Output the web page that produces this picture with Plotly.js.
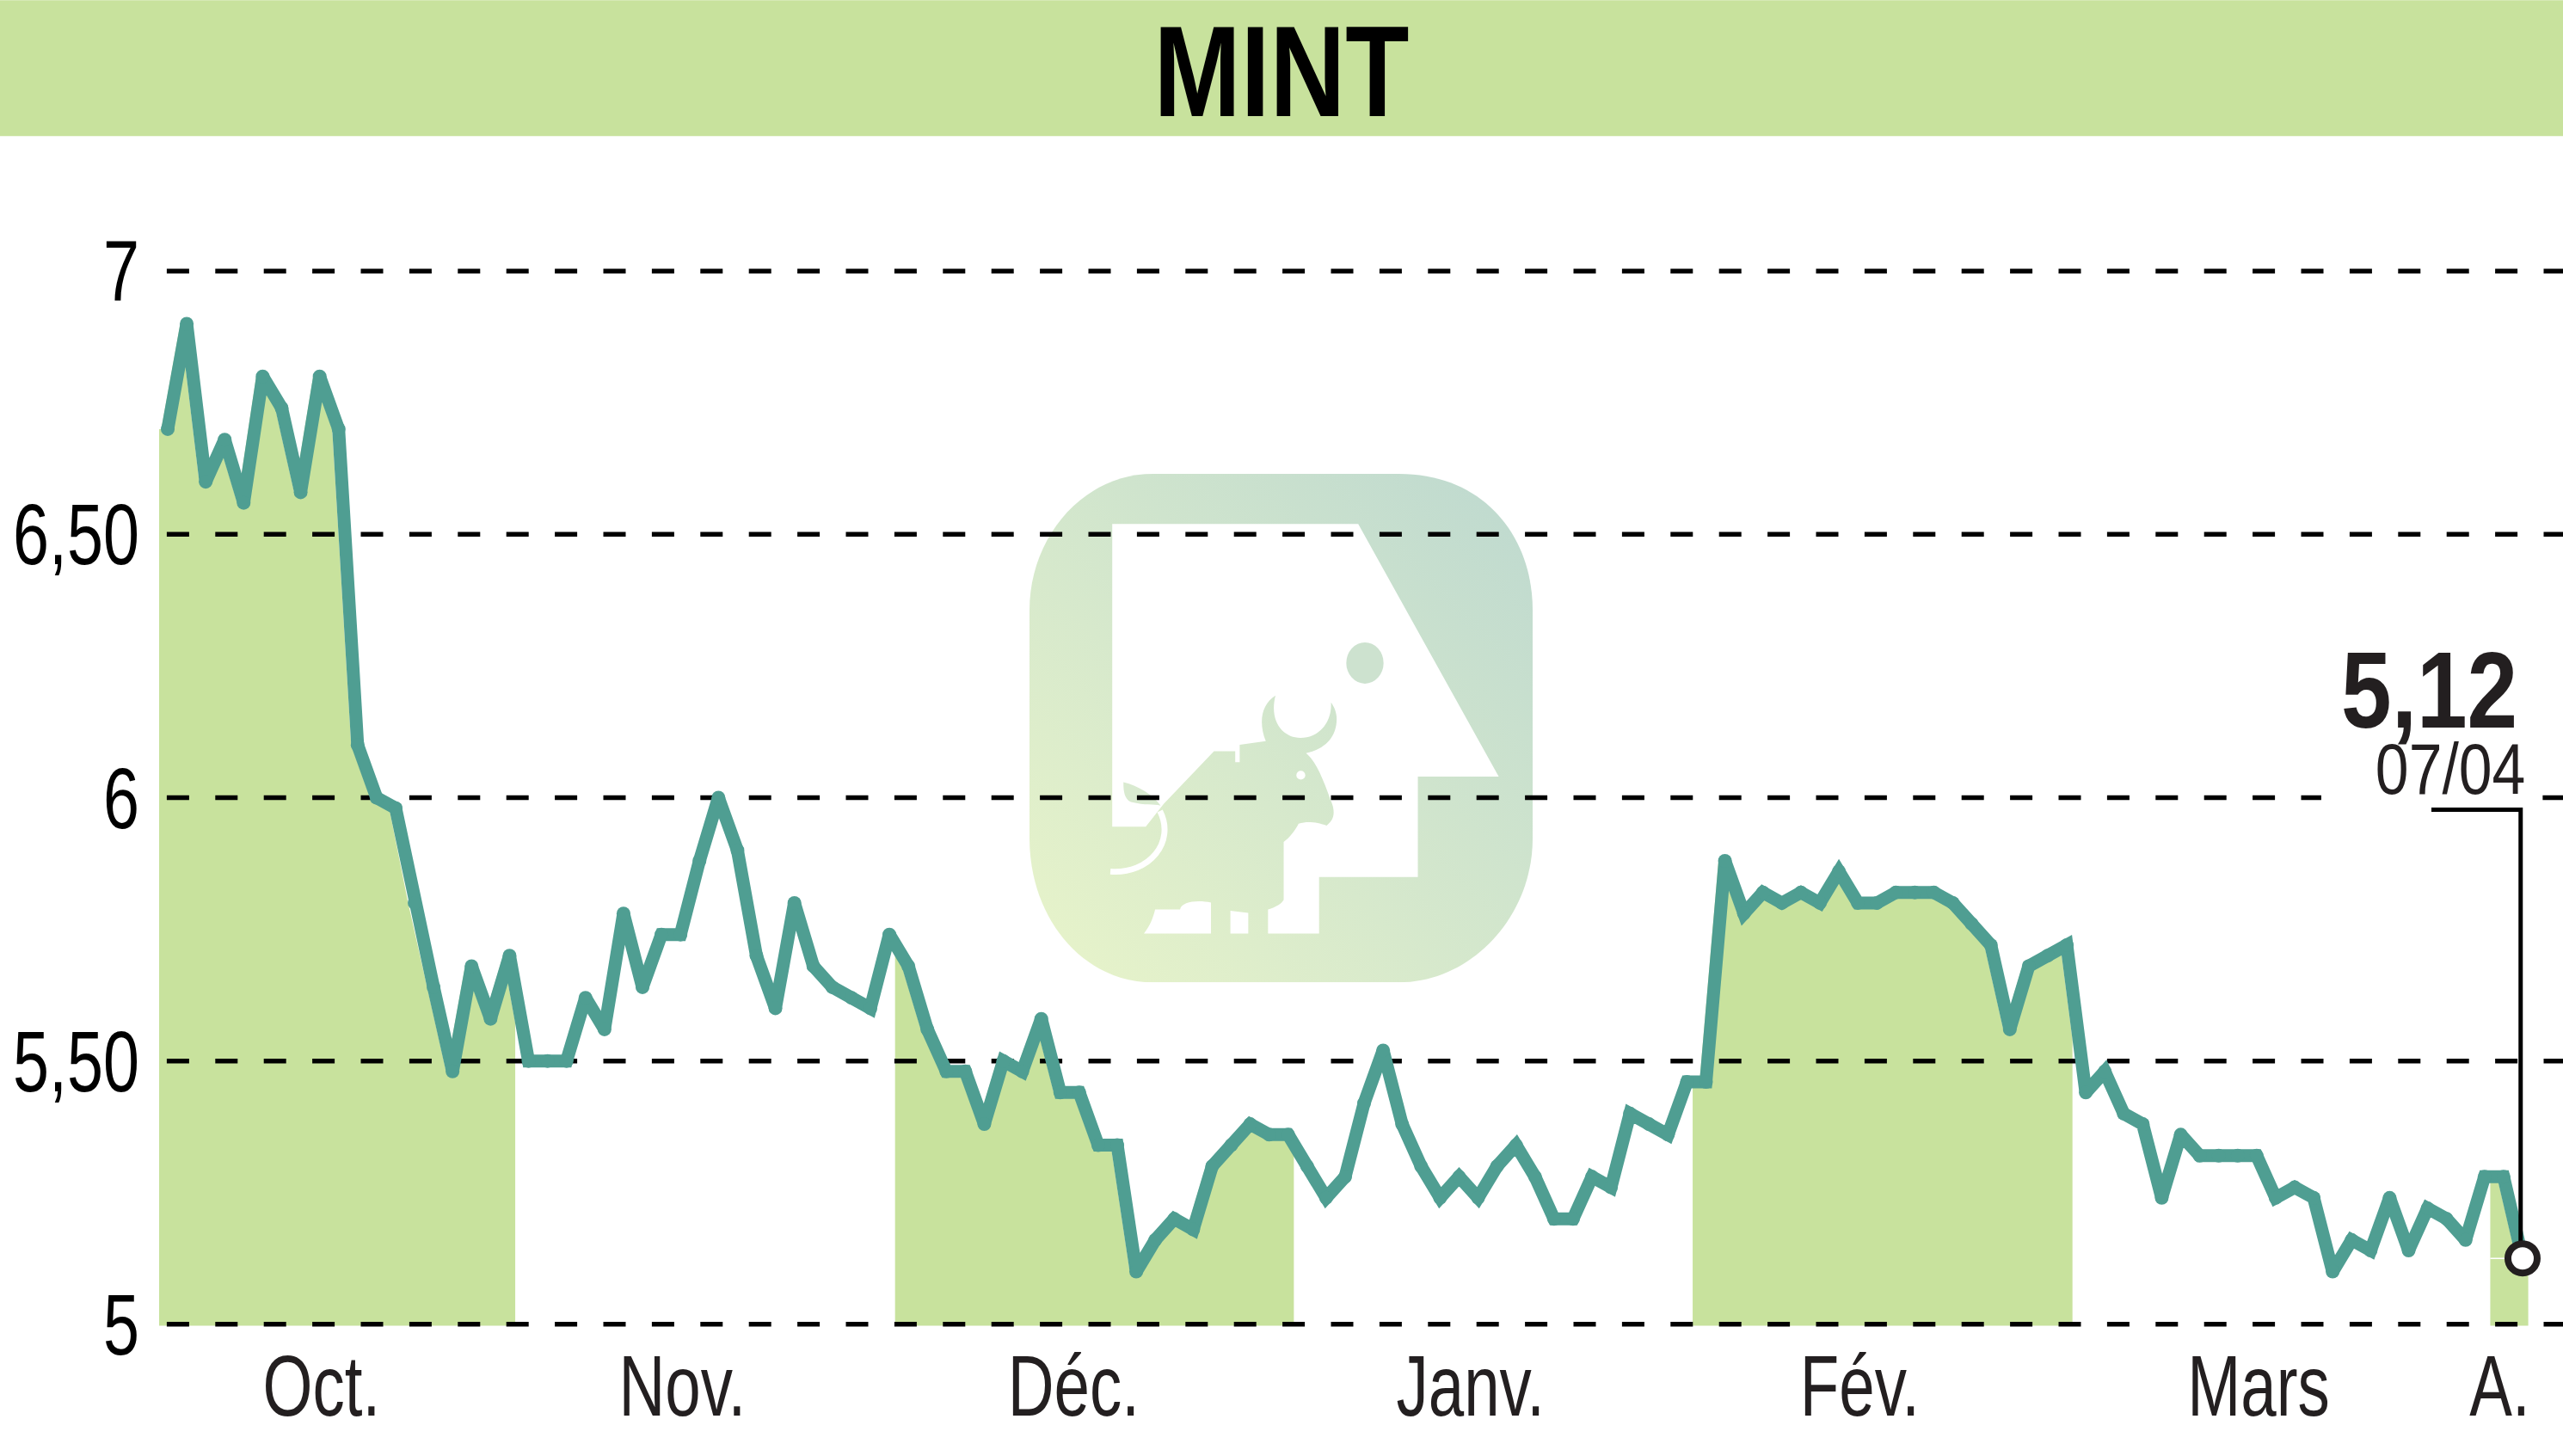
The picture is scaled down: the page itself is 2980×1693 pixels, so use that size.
<!DOCTYPE html>
<html>
<head>
<meta charset="utf-8">
<script src="https://cdn.plot.ly/plotly-3.0.1.min.js"></script>
<style>html,body{margin:0;padding:0;background:#fff}#chart{width:2980px;height:1693px}</style>
</head>
<body>
<div id="chart"></div>
<script>
const prices = [6.70,6.90,6.60,6.68,6.56,6.80,6.74,6.58,6.80,6.70,6.10,6.00,5.98,5.80,5.64,5.48,5.68,5.58,5.70,5.50,
5.50,5.50,5.62,5.56,5.78,5.64,5.74,5.74,5.88,6.00,5.90,5.70,5.60,5.80,5.68,5.64,5.62,5.60,5.74,5.68,
5.56,5.48,5.48,5.38,5.50,5.48,5.58,5.44,5.44,5.34,5.34,5.10,5.16,5.20,5.18,5.30,5.34,5.38,5.36,5.36,
5.30,5.24,5.28,5.42,5.52,5.38,5.30,5.24,5.28,5.24,5.30,5.34,5.28,5.20,5.20,5.28,5.26,5.40,5.38,5.36,
5.46,5.46,5.88,5.78,5.82,5.80,5.82,5.80,5.86,5.80,5.80,5.82,5.82,5.82,5.80,5.76,5.72,5.56,5.68,5.70,
5.72,5.44,5.48,5.40,5.38,5.24,5.36,5.32,5.32,5.32,5.32,5.24,5.26,5.24,5.10,5.16,5.14,5.24,5.14,5.22,
5.20,5.16,5.28,5.28,5.125];
const shadedRanges = [[0,18],[39,59],[81,100],[123,124]];
const monthLabels = ["Oct.","Nov.","Déc.","Janv.","Fév.","Mars","A."];
const monthTicks = [8.1,27.1,47.7,68.6,89.1,110.1,122.8];
const priceTicks = [5,5.5,6,6.5,7];
const priceLabels = ["5","5,50","6","6,50","7"];
const lastLabel = "5,12";
const lastDate = "07/04";

const indices = prices.map((_,i)=>i);
const lastIndex = prices.length-1;
const xMin=-0.453, xMax=126.13;
const SHIFT=0.34, FILL_BASE=4.997;
const INK="#000000", TEXT="#231f20", GREEN="#c8e29d", TEAL="#4f9e92";
const FONT="Liberation Sans";

function priceAt(f){
  if(f<=0) return prices[0];
  if(f>=lastIndex) return prices[lastIndex];
  const a=Math.floor(f), t=f-a;
  return t===0?prices[a]:prices[a]+(prices[a+1]-prices[a])*t;
}
const areaTraces = shadedRanges.map(r=>{
  const xl=r[0]-0.7, xr=r[1]+0.3;
  const xs=[xl,xl], ys=[FILL_BASE,priceAt(xl+SHIFT)];
  for(let i=0;i<=lastIndex;i++){
    const xi=i-SHIFT;
    if(xi>xl && xi<xr){xs.push(xi);ys.push(prices[i]);}
  }
  xs.push(xr,xr);ys.push(priceAt(xr+SHIFT),FILL_BASE);
  return {type:'scatter',mode:'lines',x:xs,y:ys,fill:'toself',fillcolor:GREEN,line:{width:0,color:GREEN},hoverinfo:'skip',showlegend:false};
});
const hairTrace = {type:'scatter',mode:'lines',x:[122.3,lastIndex],y:[prices[lastIndex],prices[lastIndex]],
  line:{color:'#ffffff',width:1.5},hoverinfo:'skip',showlegend:false};
const gridTraces = priceTicks.map(v=>{
  const xs = v===6 ? [-0.05,113.4,null,125.06,xMax] : [-0.05,xMax];
  return {type:'scatter',mode:'lines',x:xs,y:xs.map(q=>q===null?null:v),connectgaps:false,
    line:{color:INK,width:5.5,dash:'26px,30.4px'},hoverinfo:'skip',showlegend:false};
});
const priceTrace = {type:'scatter',mode:'lines+markers',x:indices,y:prices,
  line:{color:TEAL,width:15,shape:'linear'},marker:{color:TEAL,size:16,symbol:'circle'},hoverinfo:'skip',showlegend:false};
const leaderTrace = {type:'scatter',mode:'lines',x:[119.2,123.9,123.9],y:[5.977,5.977,prices[lastIndex]],
  line:{color:INK,width:5},hoverinfo:'skip',showlegend:false};
const lastTrace = {type:'scatter',mode:'markers',x:[lastIndex],y:[prices[lastIndex]],
  marker:{color:'#ffffff',size:34,line:{color:TEXT,width:8}},hoverinfo:'skip',showlegend:false};

const logoSvg = `<svg xmlns="http://www.w3.org/2000/svg" viewBox="108 72 1350 1406" preserveAspectRatio="none">
<defs><linearGradient id="g" x1="0" y1="1" x2="1" y2="0"><stop offset="0.08" stop-color="#e5f2ca"/><stop offset="0.92" stop-color="#c1dbcf"/></linearGradient></defs>
<path fill="url(#g)" d="M440 74H1100C1330 74 1458 250 1458 450V1080C1458 1300 1290 1478 1100 1478H440C250 1478 108 1300 108 1080V450C108 250 250 74 440 74Z"/>
<path fill="#fff" d="M330 212H990L1367 910H1150V1187H885V1343H748V1277C770 1270 785 1260 790 1250V1090C805 1080 820 1060 830 1040C860 1030 890 1040 905 1045C925 1030 928 1010 920 985C900 930 880 870 850 845C900 835 935 800 932 745C930 725 922 712 917 705C920 760 885 803 835 803C790 803 750 760 768 686C730 710 722 760 742 812L672 822V870H660V840H603L468 985L420 1048H330Z"/>
<ellipse cx="1008" cy="596" rx="50" ry="57" fill="#cde2cf"/>
<circle cx="836" cy="906" r="12" fill="#fff"/>
<path fill="#d9ead0" d="M360 925C400 935 440 960 460 990C440 985 420 990 380 980C362 970 360 950 360 925Z"/>
<path fill="none" stroke="#fff" stroke-width="16" d="M325 1172C430 1180 500 1090 458 1005"/>
<path fill="#fff" d="M415 1343C430 1325 440 1300 445 1277H512C515 1255 560 1250 595 1258V1343ZM647 1280L695 1286V1343H647Z"/>
</svg>`;

const W=2980,H=1693,L=185,R=0,T=302.75,B=141.25;
const pw=W-L-R, ph=H-T-B;
const px = v=>(v-L)/pw;
const py = v=>(H-B-v)/ph;

const layout = {
  width:W,height:H,margin:{l:L,r:R,t:T,b:B,pad:0},paper_bgcolor:'#ffffff',plot_bgcolor:'rgba(0,0,0,0)',
  showlegend:false,
  title:{text:'MINT',font:{family:FONT,size:150,color:'#000000',weight:700},x:0.5,xanchor:'center',xref:'container',y:1-82/H,yref:'container',yanchor:'middle'},
  xaxis:{range:[xMin,xMax],showgrid:false,zeroline:false,showline:false,tickmode:'array',tickvals:monthTicks,ticktext:monthLabels,
    ticks:'',ticklabelstandoff:-7,tickfont:{family:FONT,size:100,color:TEXT},automargin:false,fixedrange:true},
  yaxis:{range:[4.98,7.02],showgrid:false,zeroline:false,showline:false,tickmode:'array',tickvals:priceTicks,ticktext:priceLabels,
    ticks:'',ticklabelstandoff:22,tickfont:{family:FONT,size:100,color:'#000000'},automargin:false,fixedrange:true},
  shapes:[{type:'rect',xref:'paper',yref:'paper',x0:px(0),x1:1,y0:py(158),y1:py(0),fillcolor:GREEN,line:{width:0},layer:'below'}],
  images:[{source:'data:image/svg+xml;charset=utf-8,'+encodeURIComponent(logoSvg),xref:'paper',yref:'paper',
    x:px(1197),y:py(550),sizex:585/pw,sizey:592/ph,sizing:'stretch',xanchor:'left',yanchor:'top',layer:'below'}],
  annotations:[
    {xref:'paper',yref:'paper',x:px(2824),y:py(875),xanchor:'center',yanchor:'bottom',text:lastLabel,showarrow:false,
      font:{family:FONT,size:127,color:TEXT,weight:700}},
    {xref:'paper',yref:'paper',x:px(2849),y:py(943),xanchor:'center',yanchor:'bottom',text:lastDate,showarrow:false,
      font:{family:FONT,size:84,color:TEXT}}
  ]
};
function condense(sel,f){
  document.querySelectorAll(sel).forEach(el=>{
    el.setAttribute('textLength',el.getComputedTextLength()*f);
    el.setAttribute('lengthAdjust','spacingAndGlyphs');
  });
}
Plotly.newPlot('chart',[...areaTraces,hairTrace,...gridTraces,priceTrace,leaderTrace,lastTrace],layout,{displayModeBar:false,staticPlot:true}).then(()=>{
  condense('.gtitle',0.81);
  condense('.ytick text',0.755);
  condense('.xtick text',0.745);
  condense('.annotation-text',0.83);
});
</script>
</body>
</html>
